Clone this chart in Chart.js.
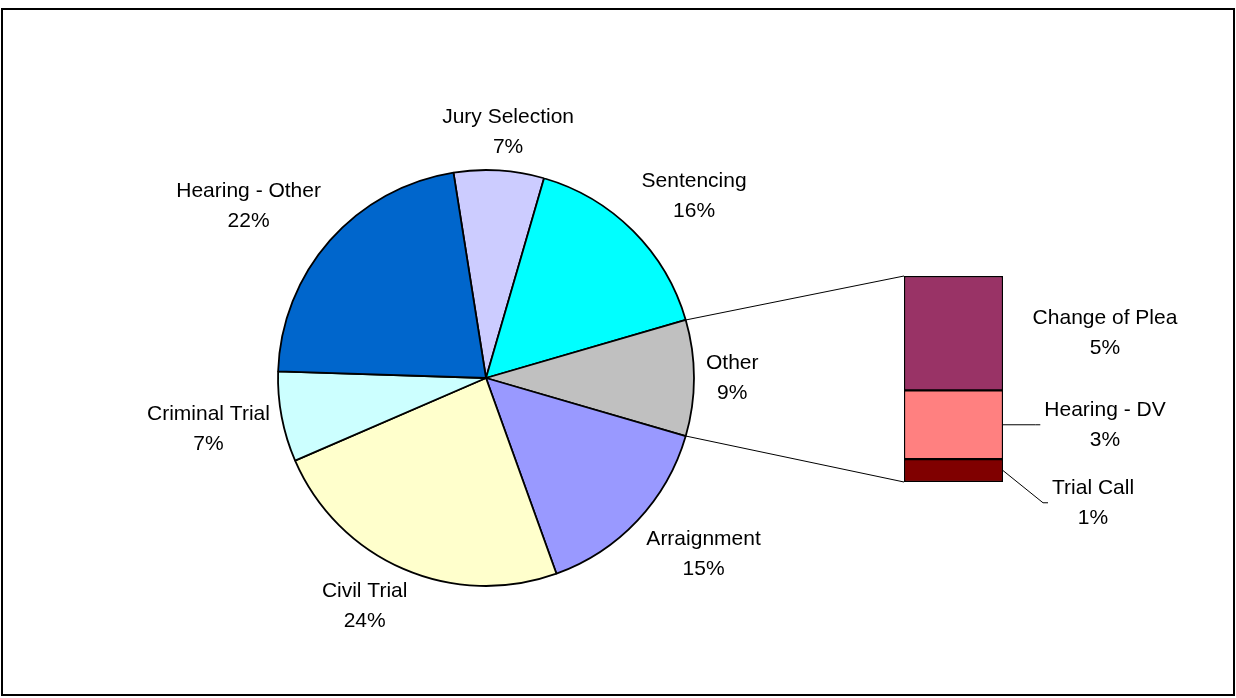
<!DOCTYPE html>
<html>
<head>
<meta charset="utf-8">
<script src="https://cdn.jsdelivr.net/npm/chart.js@4.4.1/dist/chart.umd.min.js"></script>
<style>
    body { margin: 0; background: #fff; }
    #moldura {
        position: absolute; left: 1px; top: 8px;
        width: 1234px; height: 688px;
        border: 2px solid #000; box-sizing: border-box;
    }
    canvas { position: absolute; left: 0; top: 0; }
</style>
</head>
<body>
<div id="moldura"></div>
<canvas id="grafico_pizza" width="1236" height="698"></canvas>
<canvas id="grafico_barra" width="1236" height="698"></canvas>
<script>
// Dados da pizza (sentido horário, começando em Jury Selection)
const categorias = ["Jury Selection", "Sentencing", "Other", "Arraignment", "Civil Trial", "Criminal Trial", "Hearing - Other"];
const percentuais = [7, 16, 9, 15, 24, 7, 22];
const cores = ["#CCCCFF", "#00FFFF", "#C0C0C0", "#9999FF", "#FFFFCC", "#CCFFFF", "#0066CC"];

// Detalhamento de "Other" (de baixo para cima na barra)
const categoriasOutros = ["Trial Call", "Hearing - DV", "Change of Plea"];
const percentuaisOutros = [1, 3, 5];
const coresOutros = ["#800000", "#FF8080", "#993366"];

const FONTE = '21px "Liberation Sans", Arial, sans-serif';
const indiceOutros = categorias.indexOf("Other");

// gira a pizza para deixar a fatia "Other" centrada às 3 horas
let antes = 0;
for (let i = 0; i < indiceOutros; i++) antes += percentuais[i];
const total = percentuais.reduce((a, b) => a + b, 0);
const rotacao = 90 - (antes + percentuais[indiceOutros] / 2) / total * 360;

function duasLinhas(ctx, l1, l2, cx, cy) {
    ctx.fillText(l1, cx, cy - 15);
    ctx.fillText(l2, cx, cy + 15);
}

const limita = v => Math.max(-1, Math.min(1, v));

// ── Rótulos da pizza ──────────────────────────────────────
const rotulosPizza = {
    id: "rotulosPizza",
    afterDraw(chart) {
        const ctx = chart.ctx;
        const meta = chart.getDatasetMeta(0);
        ctx.save();
        ctx.font = FONTE;
        ctx.fillStyle = "#000";
        ctx.textAlign = "center";
        ctx.textBaseline = "middle";
        meta.data.forEach((arco, i) => {
            const meio = (arco.startAngle + arco.endAngle) / 2;
            const nome = categorias[i];
            const pct = Math.round(percentuais[i]) + "%";
            const w = Math.max(ctx.measureText(nome).width, ctx.measureText(pct).width);
            const h = 52;
            const r = arco.outerRadius + 12;
            const ax = arco.x + r * Math.cos(meio);
            const ay = arco.y + r * Math.sin(meio);
            // o canto da caixa de texto encosta no ponto âncora
            const cx = ax + limita(2 * Math.cos(meio)) * w / 2;
            const cy = ay + limita(2 * Math.sin(meio)) * h / 2;
            duasLinhas(ctx, nome, pct, cx, cy);
        });
        ctx.restore();
    }
};

const graficoPizza = new Chart(document.getElementById("grafico_pizza"), {
    type: "pie",
    data: {
        labels: categorias,
        datasets: [{
            data: percentuais,
            backgroundColor: cores,
            borderColor: "#000",
            borderWidth: 1.8
        }]
    },
    options: {
        responsive: false,
        animation: false,
        rotation: rotacao,
        radius: 208,
        layout: { padding: { left: 0, right: 264, top: 58, bottom: 0 } },
        plugins: { legend: { display: false }, tooltip: { enabled: false } }
    },
    plugins: [rotulosPizza]
});

// ── Linhas de ligação e rótulos da barra ──────────────────
const ligacoes = {
    id: "ligacoes",
    afterDraw(chart) {
        const ctx = chart.ctx;
        const arco = graficoPizza.getDatasetMeta(0).data[indiceOutros];
        const topo = chart.getDatasetMeta(categoriasOutros.length - 1).data[0];
        const base = chart.getDatasetMeta(0).data[0];
        const esquerda = topo.x - topo.width / 2;
        const direita = topo.x + topo.width / 2;

        ctx.save();
        ctx.strokeStyle = "#000";
        ctx.lineWidth = 1;
        ctx.beginPath();
        ctx.moveTo(arco.x + arco.outerRadius * Math.cos(arco.startAngle), arco.y + arco.outerRadius * Math.sin(arco.startAngle));
        ctx.lineTo(esquerda, topo.y);
        ctx.moveTo(arco.x + arco.outerRadius * Math.cos(arco.endAngle), arco.y + arco.outerRadius * Math.sin(arco.endAngle));
        ctx.lineTo(esquerda, base.base);
        ctx.stroke();

        ctx.font = FONTE;
        ctx.fillStyle = "#000";
        ctx.textBaseline = "middle";
        ctx.textAlign = "center";

        let fundoAnterior = -Infinity;
        for (let i = categoriasOutros.length - 1; i >= 0; i--) {
            const barra = chart.getDatasetMeta(i).data[0];
            const meio = (barra.y + barra.base) / 2;
            const nome = categoriasOutros[i];
            const pct = Math.round(percentuaisOutros[i]) + "%";
            const w = Math.max(ctx.measureText(nome).width, ctx.measureText(pct).width);
            let cy = meio;
            let cx = direita + 102;
            if (cy - 25 < fundoAnterior + 28) {
                // empurra o rótulo para baixo e alinha pela esquerda
                cy = fundoAnterior + 28 + 25;
                cx = direita + 49 + w / 2;
            }
            const esq = cx - w / 2;
            if (esq - direita > 40) {
                ctx.beginPath();
                ctx.moveTo(direita, meio);
                ctx.lineTo(esq - 9, cy);
                ctx.lineTo(esq - 4, cy);
                ctx.stroke();
            }
            duasLinhas(ctx, nome, pct, cx, cy);
            fundoAnterior = cy + 25;
        }
        ctx.restore();
    }
};

new Chart(document.getElementById("grafico_barra"), {
    type: "bar",
    data: {
        labels: ["Other"],
        datasets: categoriasOutros.map((c, i) => ({
            label: c,
            data: [percentuaisOutros[i]],
            backgroundColor: coresOutros[i],
            borderColor: "#000",
            borderWidth: 1.5,
            borderSkipped: false,
            barPercentage: 1,
            categoryPercentage: 1
        }))
    },
    options: {
        responsive: false,
        animation: false,
        layout: { padding: { left: 904, right: 233, top: 276, bottom: 216 } },
        scales: {
            x: { stacked: true, display: false },
            y: { stacked: true, display: false, min: 0, max: percentuaisOutros.reduce((a, b) => a + b, 0) }
        },
        plugins: { legend: { display: false }, tooltip: { enabled: false } }
    },
    plugins: [ligacoes]
});
</script>
</body>
</html>
